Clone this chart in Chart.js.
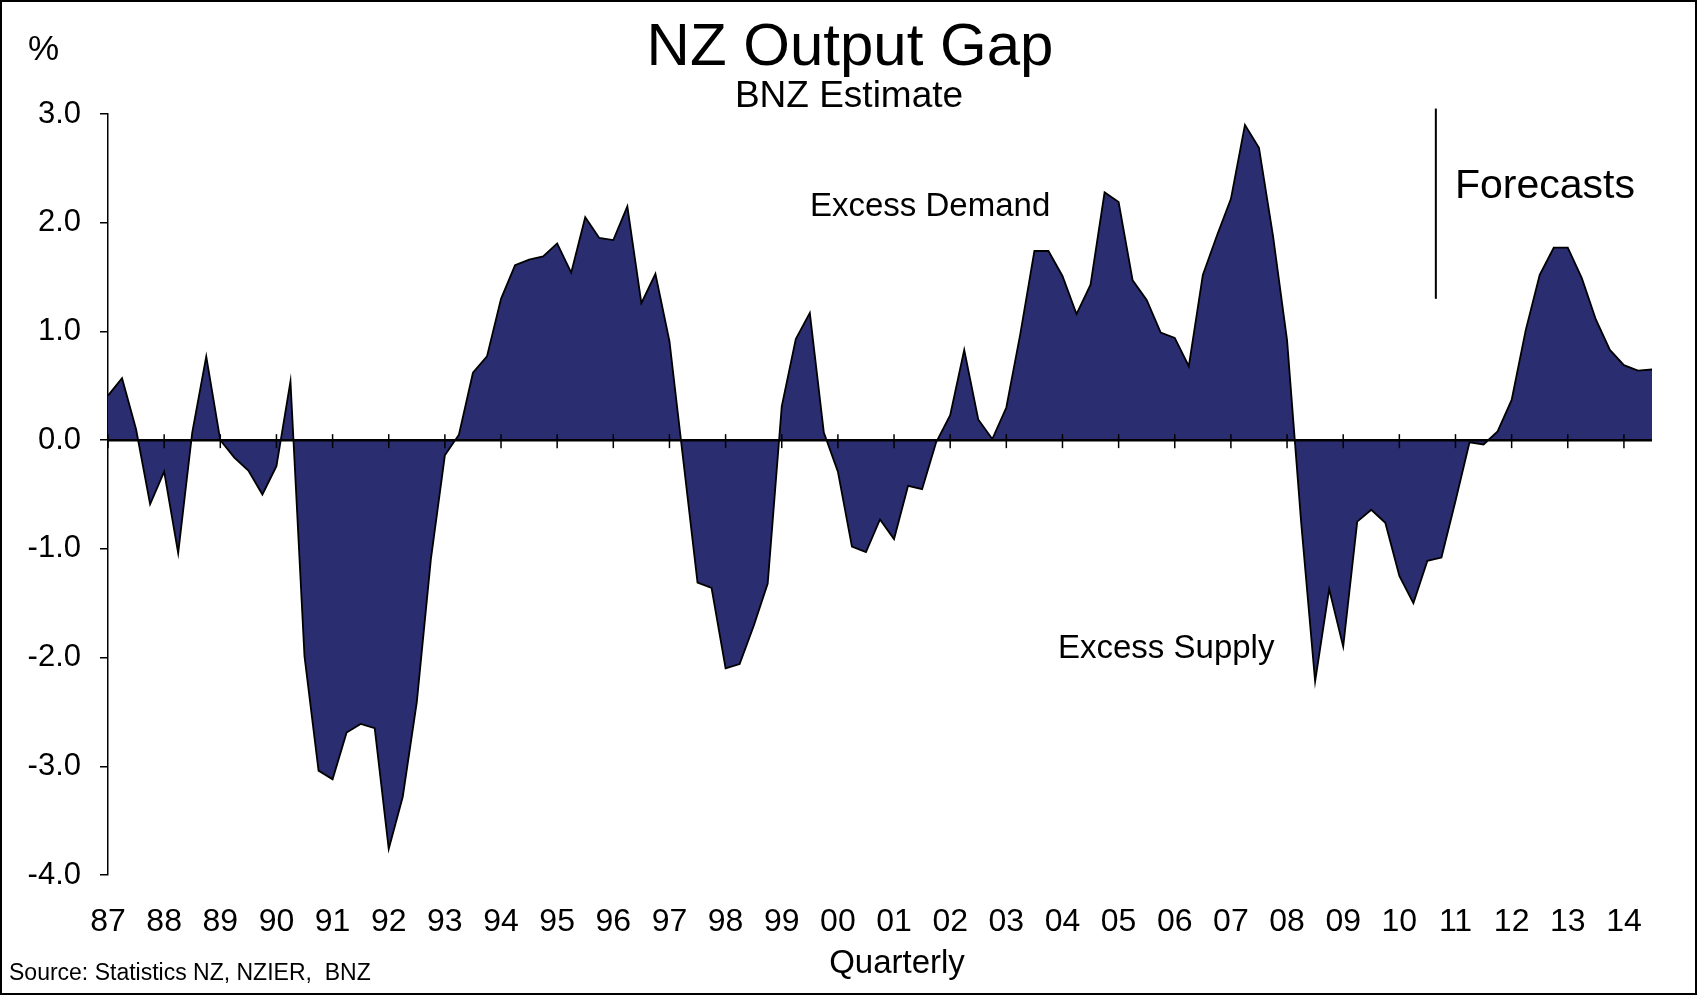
<!DOCTYPE html>
<html>
<head>
<meta charset="utf-8">
<title>NZ Output Gap</title>
<script src="https://cdn.jsdelivr.net/npm/chart.js@4"></script>
<style>
  body { margin: 0; background: #fff; }
  #wrap { width: 1698px; height: 997px; position: relative; }
</style>
</head>
<body>
<div id="wrap"><canvas id="canvas"></canvas></div>
<script>
/* global Chart */

// year tick labels, one per year, first quarter of 1987 to third quarter of 2014
const yearLabels = ["87", "88", "89", "90", "91", "92", "93", "94", "95", "96", "97", "98", "99", "00",
  "01", "02", "03", "04", "05", "06", "07", "08", "09", "10", "11", "12", "13", "14"];

// output gap, % of potential GDP, quarterly
const outputGap = [
  0.41, 0.57, 0.10, -0.59,      // 87
  -0.29, -1.04, 0.07, 0.77,     // 88
  0.00, -0.16, -0.28, -0.50,    // 89
  -0.24, 0.54, -1.99, -3.04,    // 90
  -3.12, -2.69, -2.61, -2.65,   // 91
  -3.76, -3.28, -2.41, -1.10,   // 92
  -0.14, 0.05, 0.62, 0.77,      // 93
  1.30, 1.61, 1.66, 1.69,       // 94
  1.81, 1.54, 2.05, 1.86,       // 95
  1.84, 2.15, 1.26, 1.53,       // 96
  0.91, -0.20, -1.31, -1.36,    // 97
  -2.10, -2.06, -1.71, -1.32,   // 98
  0.31, 0.93, 1.17, 0.07,       // 99
  -0.29, -0.98, -1.03, -0.73,   // 00
  -0.91, -0.42, -0.45, -0.02,   // 01
  0.23, 0.83, 0.19, 0.01,       // 02
  0.30, 0.98, 1.74, 1.74,       // 03
  1.51, 1.16, 1.43, 2.28,       // 04
  2.19, 1.47, 1.29, 0.99,       // 05
  0.94, 0.68, 1.52, 1.88,       // 06
  2.22, 2.90, 2.69, 1.88,       // 07
  0.92, -0.75, -2.22, -1.37,    // 08
  -1.90, -0.75, -0.64, -0.76,   // 09
  -1.25, -1.50, -1.11, -1.08,   // 10
  -0.56, -0.02, -0.04, 0.08,    // 11
  0.37, 1.01, 1.52, 1.77,       // 12
  1.77, 1.49, 1.11, 0.83,       // 13
  0.69, 0.64, 0.65              // 14
];

const yTickValues = [-4, -3, -2, -1, 0, 1, 2, 3];

// forecasts marker sits between 10Q3 and 10Q4
const forecastStart = 94.6;
const forecastLineTop = 3.05;
const forecastLineBottom = 1.3;

const quarterLabels = outputGap.map((v, i) => yearLabels[Math.floor(i / 4)] + " Q" + (i % 4 + 1));

const FONT = "'Liberation Sans', Arial, Helvetica, sans-serif";

const decorations = {
  id: "decorations",
  afterDatasetsDraw(chart) {
    const ctx = chart.ctx;
    const x = chart.scales.x;
    const y = chart.scales.y;
    const area = chart.chartArea;
    const y0 = y.getPixelForValue(0);

    ctx.save();
    ctx.strokeStyle = "#000";

    // zero line
    ctx.lineWidth = 2.5;
    ctx.beginPath();
    ctx.moveTo(area.left, y0);
    ctx.lineTo(area.right, y0);
    ctx.stroke();

    // year tick marks on zero line
    ctx.lineWidth = 1.5;
    for (let i = 0; i < outputGap.length; i += 4) {
      const px = x.getPixelForValue(i);
      ctx.beginPath();
      ctx.moveTo(px, y0 - 6);
      ctx.lineTo(px, y0 + 8);
      ctx.stroke();
    }

    // forecasts divider
    const fx = x.getPixelForValue(forecastStart);
    ctx.lineWidth = 2;
    ctx.beginPath();
    ctx.moveTo(fx, y.getPixelForValue(forecastLineTop));
    ctx.lineTo(fx, y.getPixelForValue(forecastLineBottom));
    ctx.stroke();
    ctx.restore();
  },
  afterDraw(chart) {
    const ctx = chart.ctx;
    ctx.save();
    ctx.fillStyle = "#000";
    ctx.textBaseline = "alphabetic";

    function text(str, px, py, size, align) {
      ctx.font = size + "px " + FONT;
      ctx.textAlign = align || "left";
      ctx.fillText(str, px, py);
    }

    text("NZ Output Gap", 850, 65, 60, "center");
    text("BNZ Estimate", 849, 107, 37, "center");
    text("%", 28, 60, 35);
    text("Excess Demand", 810, 216, 33);
    text("Excess Supply", 1058, 658, 33);
    text("Forecasts", 1455, 198, 41);
    text("Quarterly", 897, 973, 33, "center");
    text("Source: Statistics NZ, NZIER,  BNZ", 9, 980, 23);

    // frame
    ctx.strokeStyle = "#000";
    ctx.lineWidth = 2;
    ctx.strokeRect(1, 1, 1695, 993);
    ctx.restore();
  }
};

function drawChart() {
  const ctx = document.getElementById("canvas").getContext("2d");

  const data = {
    labels: quarterLabels,
    datasets: [
      {
        data: outputGap,
        fill: "origin",
        backgroundColor: "#2a2d70",
        borderColor: "#000",
        borderWidth: 1.8,
        pointRadius: 0,
        tension: 0
      }
    ]
  };

  const options = {
    responsive: true,
    maintainAspectRatio: false,
    animation: false,
    layout: { padding: { top: 114, right: 46, left: 0, bottom: 0 } },
    plugins: {
      legend: { display: false },
      tooltip: { enabled: false }
    },
    scales: {
      x: {
        type: "category",
        offset: false,
        grid: { display: false, drawTicks: false },
        border: { display: false },
        afterFit: scale => { scale.height = 122; },
        ticks: {
          autoSkip: false,
          maxRotation: 0,
          minRotation: 0,
          padding: 28,
          color: "#000",
          font: { family: FONT, size: 32 },
          callback: (value, index) => (index % 4 === 0 ? yearLabels[index / 4] : "")
        }
      },
      y: {
        min: -4,
        max: 3,
        afterFit: scale => { scale.width = 108; },
        afterBuildTicks: scale => {
          scale.ticks = yTickValues.map(v => ({ value: v }));
        },
        grid: {
          drawOnChartArea: false,
          drawTicks: true,
          tickLength: 8,
          color: "#000",
          lineWidth: 1.5
        },
        border: { display: true, color: "#000", width: 1.5 },
        ticks: {
          padding: 19,
          color: "#000",
          font: { family: FONT, size: 31 },
          callback: value => value.toFixed(1)
        }
      }
    }
  };

  new Chart(ctx, {
    type: "line",
    data: data,
    options: options,
    plugins: [decorations]
  });
}

drawChart();
</script>
</body>
</html>
